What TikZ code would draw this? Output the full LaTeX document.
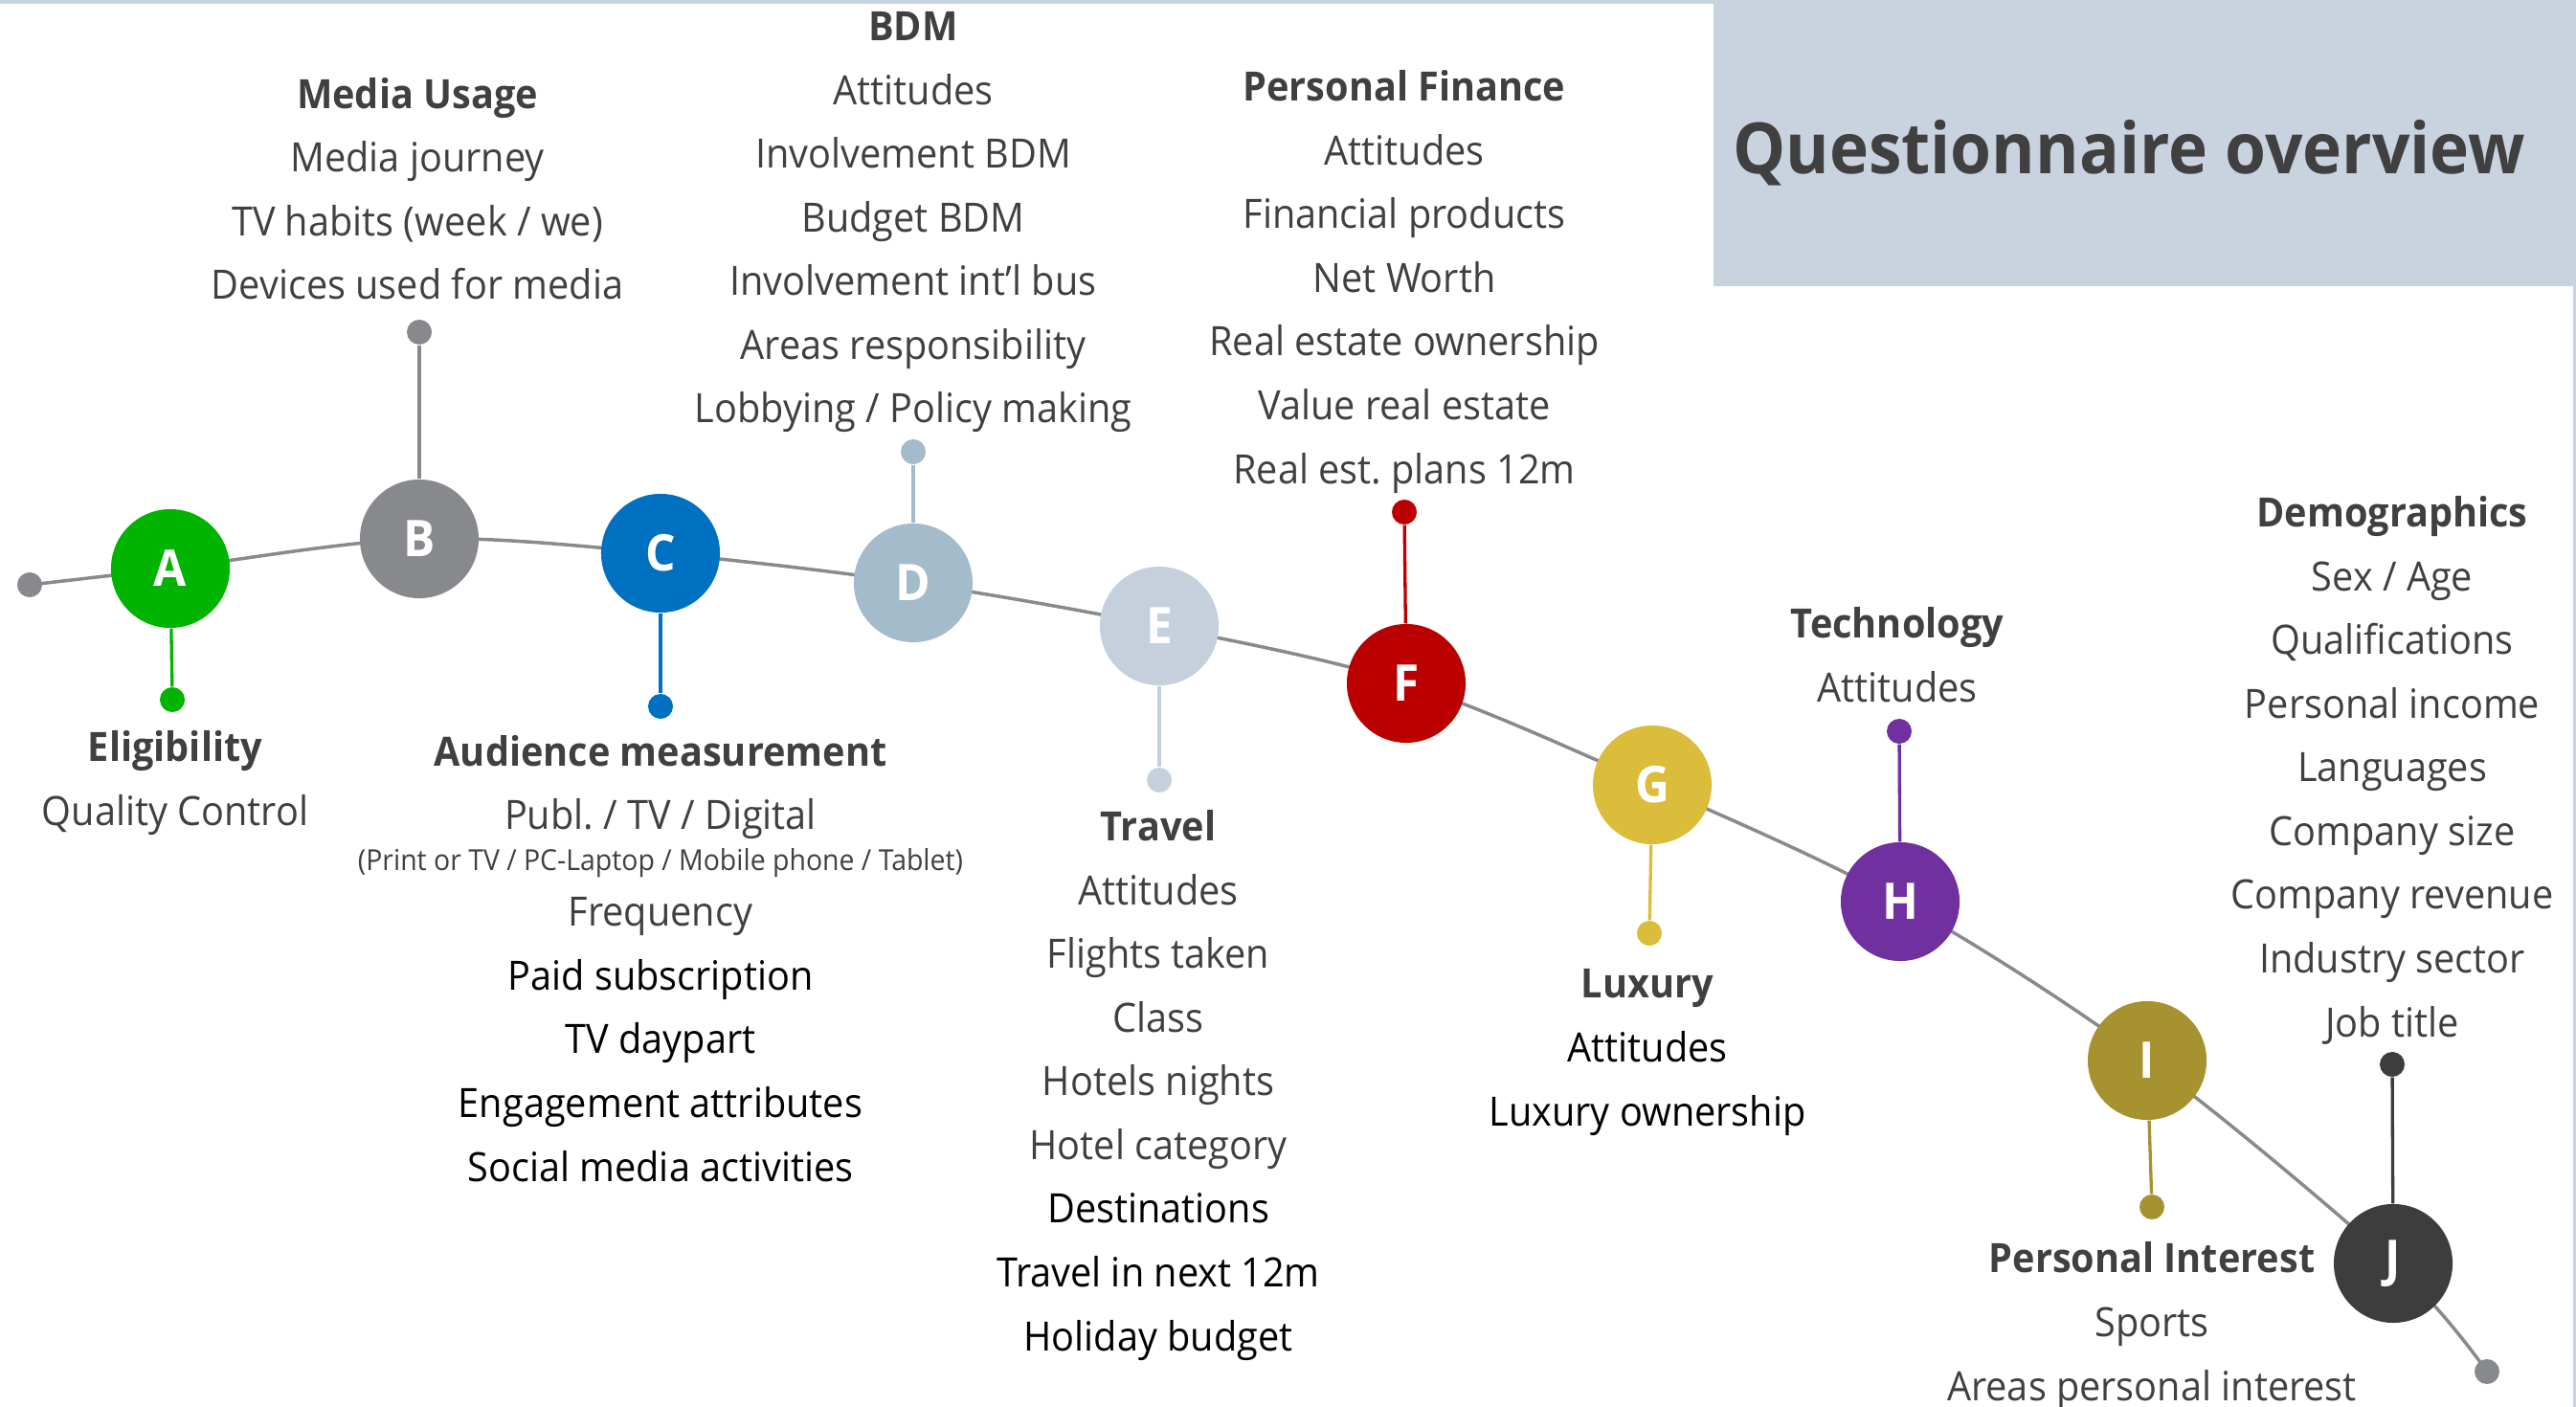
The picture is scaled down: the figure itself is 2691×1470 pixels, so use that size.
\documentclass[tikz,border=0pt]{standalone}
\usepackage{fontspec}
\setmainfont{Open Sans}[FakeStretch=0.94]
\usepackage{xcolor}
\usetikzlibrary{backgrounds}
\definecolor{customcolor1}{HTML}{00B400}
\definecolor{customcolor2}{HTML}{88898D}
\definecolor{customcolor3}{HTML}{0070C0}
\definecolor{customcolor4}{HTML}{A3BBCB}
\definecolor{customcolor5}{HTML}{C5D0DC}
\definecolor{customcolor6}{HTML}{BA0000}
\definecolor{customcolor7}{HTML}{DBBD3B}
\definecolor{customcolor8}{HTML}{7030A0}
\definecolor{customcolor9}{HTML}{A6922E}
\definecolor{customcolor10}{HTML}{3D3D3D}
\definecolor{linegray}{HTML}{898A8E}
\definecolor{textgray}{HTML}{404040}
\definecolor{titlefill}{HTML}{C8D3DF}

\newcommand{\blk}[1]{{\color{black}#1}}
\frenchspacing

\begin{document}
\begin{tikzpicture}[x=0.01cm, y=-0.01cm,
    stage/.style={circle, fill=#1, minimum size=1.24cm, inner sep=0pt, text=white,
        font=\fontsize{15}{15}\selectfont\bfseries},
    pin/.style={circle, fill=#1, minimum size=0.26cm, inner sep=0pt},
    stem/.style={line width=0.033cm, color=#1},
    topic/.style={align=center, anchor=base, inner sep=0pt, text=textgray,
        font=\fontsize{12}{18.92}\selectfont}]
        \useasboundingbox (0,0) rectangle (2691,1470);

        % Frame and title
        \fill [titlefill] (0,0) rectangle (2691,4);
        \fill [titlefill] (2688,0) rectangle (2691,1470);
        \fill [titlefill] (1790,0) rectangle (2691,299);
        \node [anchor=base, text=textgray, font=\fontsize{21}{21}\selectfont\bfseries] (title) at (2224,182) {Questionnaire overview};

        % Nodes
        \node [pin=customcolor2] (lineL) at (31,611) {};
        \node [pin=customcolor2] (lineR) at (2598,1433) {};
        \node [stage=customcolor1] (A) at (178,594) {A};
        \node [stage=customcolor2] (B) at (438,563) {B};
        \node [stage=customcolor3] (C) at (690,578) {C};
        \node [stage=customcolor4] (D) at (954,609) {D};
        \node [stage=customcolor5] (E) at (1211,654) {E};
        \node [stage=customcolor6] (F) at (1469,714) {F};
        \node [stage=customcolor7] (G) at (1726,820) {G};
        \node [stage=customcolor8] (H) at (1985,942) {H};
        \node [stage=customcolor9] (I) at (2243,1108) {I};
        \node [stage=customcolor10] (J) at (2500,1320) {J};

        \node [pin=customcolor1] (pA) at (180,731) {};
        \node [pin=customcolor2] (pB) at (438,347) {};
        \node [pin=customcolor3] (pC) at (690,738) {};
        \node [pin=customcolor4] (pD) at (954,472) {};
        \node [pin=customcolor5] (pE) at (1211,815) {};
        \node [pin=customcolor6] (pF) at (1467,535) {};
        \node [pin=customcolor7] (pG) at (1723,975) {};
        \node [pin=customcolor8] (pH) at (1984,764) {};
        \node [pin=customcolor9] (pI) at (2248,1261) {};
        \node [pin=customcolor10] (pJ) at (2499,1112) {};

        % Draw the links
        \begin{scope}[on background layer]
            \draw [linegray, line width=0.035cm] plot [smooth, tension=0.55] coordinates {(lineL) (A) (B) (C) (D) (E) (F) (G) (H) (I) (J) (lineR)};
        \end{scope}
        \draw [stem=customcolor1] (pA) -- (A);
        \draw [stem=customcolor2] (pB) -- (B);
        \draw [stem=customcolor3] (pC) -- (C);
        \draw [stem=customcolor4] (pD) -- (D);
        \draw [stem=customcolor5] (pE) -- (E);
        \draw [stem=customcolor6] (pF) -- (F);
        \draw [stem=customcolor7] (pG) -- (G);
        \draw [stem=customcolor8] (pH) -- (H);
        \draw [stem=customcolor9] (pI) -- (I);
        \draw [stem=customcolor10] (pJ) -- (J);

        % Topic lists (placed by the baseline of their last line)
        \node [topic] (tA) at (183,862) {\textbf{Eligibility}\\Quality Control};
        \node [topic] (tB) at (436,313) {\textbf{Media Usage}\\Media journey\\TV habits (week / we)\\Devices used for media};
        \node [topic] (tC) at (690,1234) {\textbf{Audience measurement}\\Publ. / TV / Digital\\[-0.235cm]{\fontsize{8.6}{9}\selectfont (Print or TV / PC-Laptop / Mobile phone / Tablet)}\\[-0.085cm]Frequency\\\blk{Paid subscription}\\\blk{TV daypart}\\\blk{Engagement attributes}\\\blk{Social media activities}};
        \node [topic] (tD) at (954,442) {\textbf{BDM}\\Attitudes\\Involvement BDM\\Budget BDM\\Involvement int’l bus\\Areas responsibility\\Lobbying / Policy making};
        \node [topic] (tE) at (1210,1411) {\textbf{Travel}\\Attitudes\\Flights taken\\Class\\Hotels nights\\Hotel category\\\blk{Destinations}\\\blk{Travel in next 12m}\\\blk{Holiday budget}};
        \node [topic] (tF) at (1467,505) {\textbf{Personal Finance}\\Attitudes\\Financial products\\Net Worth\\Real estate ownership\\Value real estate\\Real est. plans 12m};
        \node [topic] (tG) at (1721,1176) {\textbf{Luxury}\\\blk{Attitudes}\\\blk{Luxury ownership}};
        \node [topic] (tH) at (1982,733) {\textbf{Technology}\\Attitudes};
        \node [topic] (tI) at (2248,1463) {\textbf{Personal Interest}\\Sports\\Areas personal interest};
        \node [topic] (tJ) at (2499,1083) {\textbf{Demographics}\\Sex / Age\\Qualifications\\Personal income\\Languages\\Company size\\Company revenue\\Industry sector\\Job title};

    \end{tikzpicture}
\end{document}
